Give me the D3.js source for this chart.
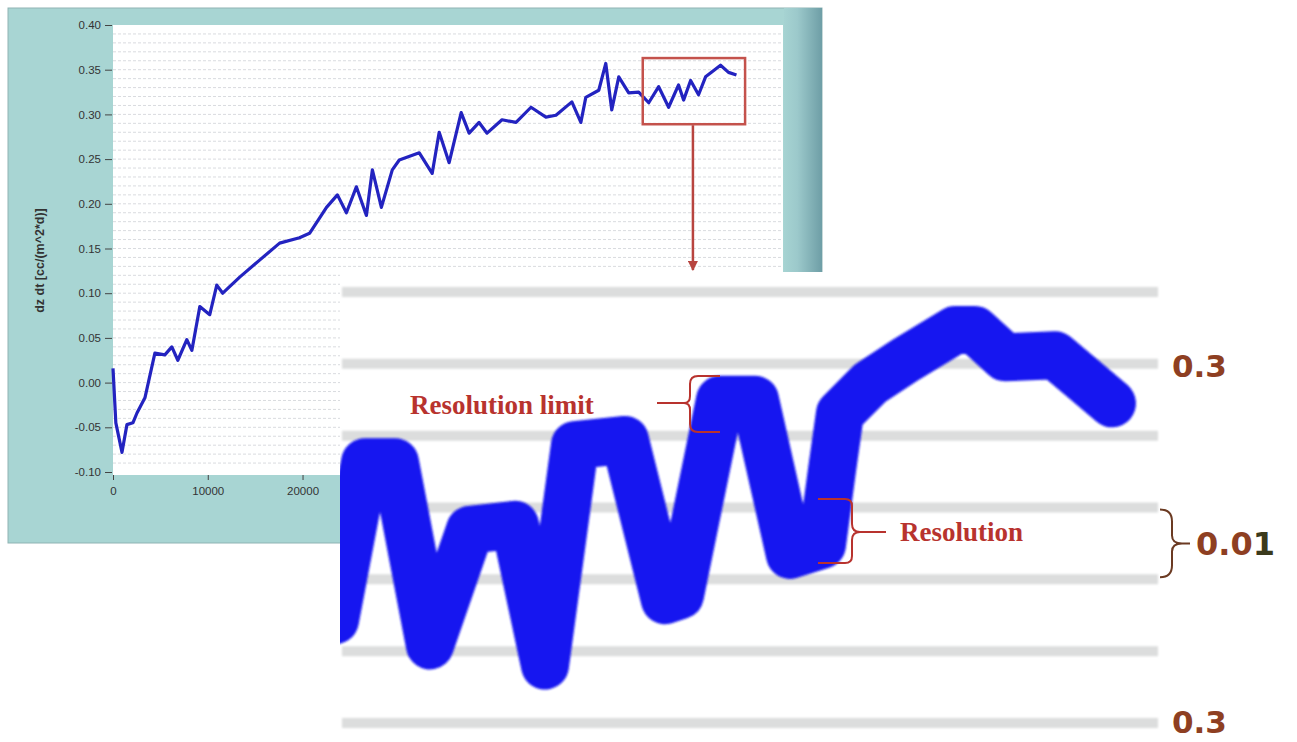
<!doctype html>
<html lang="en">
<head>
<meta charset="utf-8">
<title>Flux trace with resolution inset</title>
<script src="https://d3js.org/d3.v7.min.js"></script>
<style>
body { margin: 0; background: #fff; }
svg { display: block; }
.axis text { font-family: "Liberation Sans", Arial, sans-serif; font-size: 11.5px; fill: #333; }
.axis path { display: none; }
.axis line { stroke: #444; }
</style>
</head>
<body>
<div id="chart"></div>
<script>

// main trace
let timeVals = [0, 300, 950, 1470, 2100, 2530, 3370, 4420, 5470, 6210, 6840, 7790, 8320, 9160,
  10210, 10950, 11580, 13370, 15470, 17580, 19680, 20740, 22530, 23680, 24630, 25680, 26740,
  27370, 28320, 29470, 30210, 32320, 33680, 34420, 35470, 36740, 37580, 38630, 39470, 41050,
  42530, 44110, 45680, 46740, 48420, 49370, 49890, 51260, 52000, 52630, 53370, 54420, 55470,
  56530, 57580, 58630, 59680, 60210, 60950, 61790, 62530, 64110, 64950, 65790];
let fluxVals = [0.016, -0.045, -0.078, -0.047, -0.045, -0.034, -0.017, 0.033, 0.031, 0.040, 0.025,
  0.048, 0.036, 0.085, 0.076, 0.109, 0.100, 0.118, 0.137, 0.156, 0.162, 0.167, 0.196, 0.210,
  0.190, 0.219, 0.187, 0.238, 0.196, 0.238, 0.249, 0.257, 0.234, 0.280, 0.246, 0.302, 0.279,
  0.291, 0.279, 0.294, 0.291, 0.308, 0.297, 0.299, 0.314, 0.291, 0.319, 0.327, 0.357, 0.305,
  0.342, 0.324, 0.325, 0.313, 0.331, 0.308, 0.333, 0.316, 0.338, 0.322, 0.342, 0.355, 0.347, 0.344];

let yTicks = [0.40, 0.35, 0.30, 0.25, 0.20, 0.15, 0.10, 0.05, 0.00, -0.05, -0.10];
let xTicks = [0, 10000, 20000];
let yLabel = "dz dt [cc/(m^2*d)]";

// zoomed part (inside the red box), redrawn large
let zoomTime = [55734, 56130, 56524, 56985, 57512, 58105, 58500, 58895, 59553, 60080, 60278,
  60805, 61266, 61727, 62148, 62280, 62385, 62780, 63241, 63900, 64163, 64558, 65217, 65612, 65967];
let zoomFlux = [0.3143, 0.3363, 0.3363, 0.3108, 0.3269, 0.3276, 0.3080, 0.3387, 0.3394, 0.3171,
  0.3178, 0.3450, 0.3450, 0.3234, 0.3248, 0.3352, 0.3431, 0.3473, 0.3505, 0.3547, 0.3547,
  0.3509, 0.3512, 0.3477, 0.3445];
let zoomGrid = [0.36, 0.35, 0.34, 0.33, 0.32, 0.31, 0.30];
let zoomLabels = ["", "0.3", "", "", "", "", "0.3"];
let boxTime = [55900, 66700];
let boxFlux = [0.289, 0.363];

let W = 1297, H = 742;
let svg = d3.select("#chart").append("svg")
  .attr("width", W)
  .attr("height", H);

let defs = svg.append("defs");
defs.append("linearGradient").attr("id", "edge")
  .selectAll("stop")
  .data([["0%", "#a6d3d2"], ["35%", "#9cc9cb"], ["100%", "#6e9ea6"]])
  .join("stop")
  .attr("offset", d => d[0])
  .attr("stop-color", d => d[1]);
defs.append("filter").attr("id", "soft")
  .attr("filterUnits", "userSpaceOnUse")
  .attr("x", 0).attr("y", 0).attr("width", W).attr("height", H)
  .append("feGaussianBlur").attr("stdDeviation", 1.3);
defs.append("marker").attr("id", "head")
  .attr("viewBox", "0 0 10 10").attr("refX", 9).attr("refY", 5)
  .attr("markerWidth", 4).attr("markerHeight", 4).attr("orient", "auto")
  .append("path").attr("d", "M0,0L10,5L0,10z").attr("fill", "#b8443f");

// ---- main panel ----
let plot = {left: 113, right: 783, top: 25, bottom: 472};

svg.append("rect")
  .attr("x", 8).attr("y", 8).attr("width", 814).attr("height", 535)
  .attr("fill", "#a8d5d3").attr("stroke", "#8fb3b3");
svg.append("rect")
  .attr("x", 784).attr("y", 8).attr("width", 38).attr("height", 535)
  .attr("fill", "url(#edge)");

let x = d3.scaleLinear().domain([0, 70700]).range([plot.left, plot.right]);
let y = d3.scaleLinear().domain([-0.10, 0.40]).range([plot.bottom, plot.top]);

svg.append("rect")
  .attr("x", plot.left).attr("y", plot.top)
  .attr("width", plot.right - plot.left).attr("height", plot.bottom - plot.top + 3)
  .attr("fill", "#fff");

// faint dashed grid every 0.01
svg.append("g")
  .selectAll("line")
  .data(d3.range(-0.09, 0.40, 0.01))
  .join("line")
  .attr("x1", plot.left).attr("x2", plot.right)
  .attr("y1", d => y(d)).attr("y2", d => y(d))
  .attr("stroke", "#d9dbdf").attr("stroke-width", 1)
  .attr("stroke-dasharray", "3,2");

let fmt = d => d3.format(".2f")(d).replace("\u2212", "-");
svg.append("g").attr("class", "axis")
  .attr("transform", `translate(${plot.left - 1},0)`)
  .call(d3.axisLeft(y).tickValues(yTicks).tickFormat(fmt).tickSize(7).tickPadding(4));

svg.append("g").attr("class", "axis")
  .attr("transform", `translate(0,${plot.bottom + 3})`)
  .call(d3.axisBottom(x).tickValues(xTicks).tickFormat(d3.format("d")).tickSize(5).tickPadding(7));

svg.append("text")
  .attr("transform", `translate(44,${(plot.top + plot.bottom) / 2 + 12}) rotate(-90)`)
  .attr("text-anchor", "middle")
  .attr("font-family", "Liberation Sans, Arial, sans-serif")
  .attr("font-weight", "bold")
  .attr("font-size", 12.5)
  .attr("fill", "#333")
  .text(yLabel);

let trace = timeVals.map((t, i) => [t, fluxVals[i]]);
svg.append("path")
  .datum(trace)
  .attr("fill", "none")
  .attr("stroke", "#2323c0")
  .attr("stroke-width", 3.2)
  .attr("stroke-linejoin", "round")
  .attr("d", d3.line().x(d => x(d[0])).y(d => y(d[1])));

// red box round the zoomed part + arrow down to the inset
svg.append("rect")
  .attr("x", x(boxTime[0])).attr("y", y(boxFlux[1]))
  .attr("width", x(boxTime[1]) - x(boxTime[0]))
  .attr("height", y(boxFlux[0]) - y(boxFlux[1]))
  .attr("fill", "none").attr("stroke", "#c4524c").attr("stroke-width", 2.5);

let arrowX = (x(boxTime[0]) + x(boxTime[1])) / 2 - 1;
svg.append("line")
  .attr("x1", arrowX).attr("x2", arrowX)
  .attr("y1", y(boxFlux[0]) + 1).attr("y2", 270)
  .attr("stroke", "#b8443f").attr("stroke-width", 2.5)
  .attr("marker-end", "url(#head)");

// ---- inset ----
let inset = {left: 340, right: 1158, top: 272};
let ix = d3.scaleLinear().domain([55800, 66600]).range([340, 1160]);
let iy = d3.scaleLinear().domain([0.36, 0.30]).range([292, 723]);

svg.append("rect")
  .attr("x", inset.left).attr("y", inset.top)
  .attr("width", W - inset.left).attr("height", H - inset.top)
  .attr("fill", "#fff");

defs.append("clipPath").attr("id", "insetClip")
  .append("rect")
  .attr("x", inset.left).attr("y", inset.top)
  .attr("width", W - inset.left).attr("height", H - inset.top);

let ig = svg.append("g").attr("clip-path", "url(#insetClip)");

ig.append("g")
  .attr("filter", "url(#soft)")
  .selectAll("line")
  .data(zoomGrid)
  .join("line")
  .attr("x1", inset.left + 2).attr("x2", inset.right)
  .attr("y1", d => iy(d)).attr("y2", d => iy(d))
  .attr("stroke", "#dcdddd").attr("stroke-width", 10);

let zoomTrace = zoomTime.map((t, i) => [t, zoomFlux[i]]);
ig.append("path")
  .datum(zoomTrace)
  .attr("fill", "none")
  .attr("stroke", "#1414f0")
  .attr("stroke-width", 48)
  .attr("stroke-linejoin", "round")
  .attr("stroke-linecap", "round")
  .attr("filter", "url(#soft)")
  .attr("d", d3.line().x(d => ix(d[0])).y(d => iy(d[1])));

ig.append("g")
  .selectAll("text")
  .data(zoomGrid.map((v, i) => [v, zoomLabels[i]]).filter(d => d[1] !== ""))
  .join("text")
  .attr("x", 1172)
  .attr("y", d => Math.min(iy(d[0]) + 13, 733))
  .attr("font-family", "DejaVu Sans, Verdana, sans-serif")
  .attr("font-weight", "bold")
  .attr("font-size", 31)
  .attr("fill", "#8e3f22")
  .text(d => d[1]);

// "0.01" spacing brace
let g1 = iy(0.33), g2 = iy(0.32), gm = (g1 + g2) / 2;
svg.append("path")
  .attr("d", `M1160,${g1 + 2} Q1172,${g1 + 2} 1172,${g1 + 14} L1172,${gm - 8} Q1172,${gm} 1182,${gm}
    Q1172,${gm} 1172,${gm + 8} L1172,${g2 - 14} Q1172,${g2 - 2} 1160,${g2 - 2} M1182,${gm} L1190,${gm}`)
  .attr("fill", "none").attr("stroke", "#6b3a22").attr("stroke-width", 2);
let lbl = svg.append("text")
  .attr("x", 1196).attr("y", gm + 12)
  .attr("font-family", "DejaVu Sans, Verdana, sans-serif")
  .attr("font-weight", "bold")
  .attr("font-size", 32)
  .attr("fill", "#8e3f22");
lbl.append("tspan").text("0.0");
lbl.append("tspan").attr("fill", "#3b3a1c").text("1");

// annotations on the zoomed line
let red = "#b8332e";
svg.append("text")
  .attr("x", 410).attr("y", 414)
  .attr("font-family", "Liberation Serif, Times New Roman, serif")
  .attr("font-weight", "bold")
  .attr("font-size", 27)
  .attr("fill", red)
  .text("Resolution limit");
svg.append("path")
  .attr("d", "M657,403 L684,403 M720,376 L698,376 Q690,376 690,384 L690,396 Q690,403 684,403 Q690,403 690,410 L690,424 Q690,432 698,432 L720,432")
  .attr("fill", "none").attr("stroke", red).attr("stroke-width", 2);

svg.append("text")
  .attr("x", 900).attr("y", 541)
  .attr("font-family", "Liberation Serif, Times New Roman, serif")
  .attr("font-weight", "bold")
  .attr("font-size", 27)
  .attr("fill", red)
  .text("Resolution");
svg.append("path")
  .attr("d", "M818,499 L845,499 Q852,499 852,506 L852,524 Q852,532 860,532 Q852,532 852,540 L852,556 Q852,563 845,563 L818,563 M860,532 L886,532")
  .attr("fill", "none").attr("stroke", red).attr("stroke-width", 2);

</script>
</body>
</html>
